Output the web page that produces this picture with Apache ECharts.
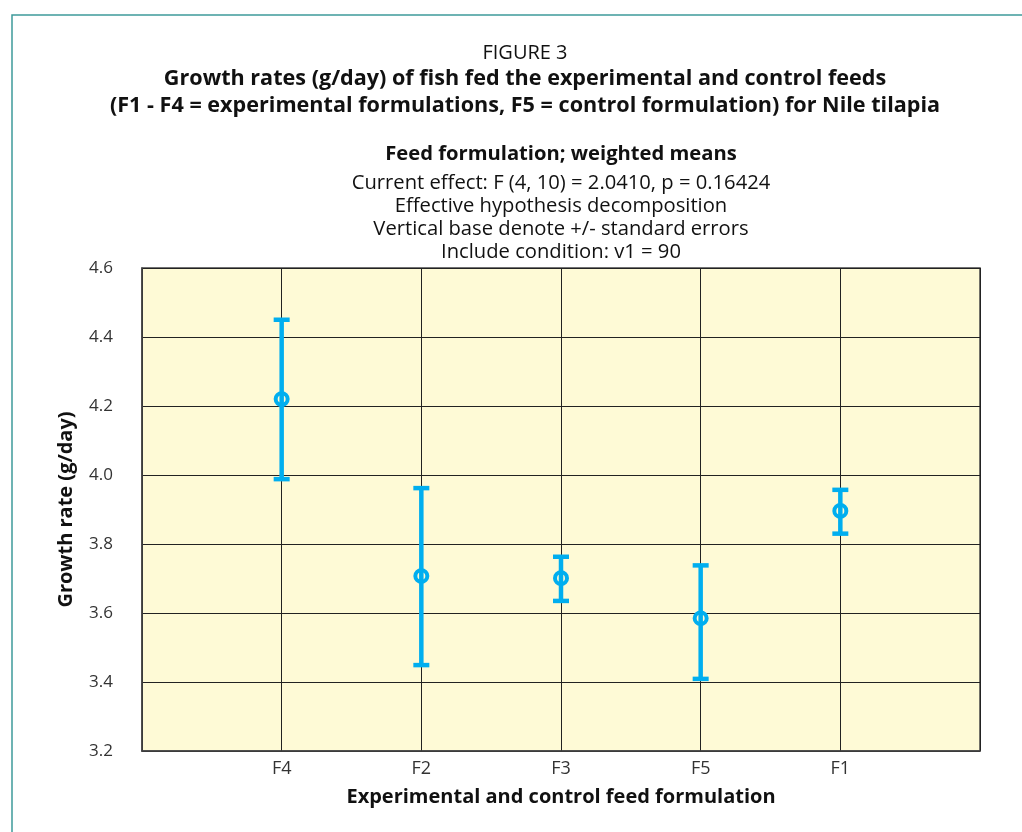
<!DOCTYPE html>
<html>
<head>
<meta charset="utf-8">
<script src="https://cdn.jsdelivr.net/npm/echarts@6/dist/echarts.min.js"></script>
<style>html,body{margin:0;padding:0;background:#fff;}#c{width:1022px;height:832px;}</style>
</head>
<body>
<div id="c"></div>
<script>
var categories = ['F4', 'F2', 'F3', 'F5', 'F1'];
var means = [4.22, 3.707, 3.701, 3.585, 3.896];
var upper = [4.45, 3.962, 3.763, 3.738, 3.957];
var lower = [3.988, 3.449, 3.635, 3.409, 3.830];
var yTicks = { min: 3.2, max: 4.6, interval: 0.2 };

var FONT = '"Open Sans", "Noto Sans", sans-serif';
var barColor = '#00AEEF';

var data = categories.map(function (c, i) { return [i + 1, means[i], lower[i], upper[i]]; });

var chart = echarts.init(document.getElementById('c'), null, { renderer: 'canvas' });
chart.setOption({
  backgroundColor: '#ffffff',
  animation: false,
  grid: { left: 142, right: 42, top: 268, bottom: 81, show: true, backgroundColor: '#FEFAD6', borderColor: '#444', borderWidth: 1.5 },
  xAxis: {
    type: 'value', min: 0, max: 6, interval: 1,
    name: 'Experimental and control feed formulation',
    nameLocation: 'middle', nameGap: 36,
    nameTextStyle: { fontFamily: FONT, fontWeight: 'bold', fontSize: 20, color: '#111' },
    axisLine: { show: true, lineStyle: { color: '#444', width: 1.5 } },
    axisTick: { show: false },
    axisLabel: {
      fontFamily: FONT, fontSize: 18, color: '#333', margin: 9,
      formatter: function (v) { var k = Math.round(v); return (k >= 1 && k <= categories.length) ? categories[k - 1] : ''; }
    },
    splitLine: { show: true, lineStyle: { color: '#222', width: 1 } }
  },
  yAxis: {
    type: 'value', min: yTicks.min, max: yTicks.max, interval: yTicks.interval,
    name: 'Growth rate (g/day)',
    nameLocation: 'middle', nameGap: 66, nameRotate: 90,
    nameTextStyle: { fontFamily: FONT, fontWeight: 'bold', fontSize: 20, color: '#111' },
    axisLine: { show: true, lineStyle: { color: '#444', width: 1.5 } },
    axisTick: { show: false },
    axisLabel: { fontFamily: FONT, fontSize: 17, color: '#333', margin: 29, formatter: function (v) { return v.toFixed(1); } },
    splitLine: { show: true, lineStyle: { color: '#222', width: 1 } }
  },
  series: [{
    type: 'custom',
    data: data,
    renderItem: function (params, api) {
      var x = api.value(0);
      var pm = api.coord([x, api.value(1)]);
      var pl = api.coord([x, api.value(2)]);
      var pu = api.coord([x, api.value(3)]);
      var cap = 8;
      var st = { stroke: barColor, lineWidth: 4.5, fill: 'none' };
      return {
        type: 'group',
        children: [
          { type: 'line', shape: { x1: pm[0], y1: pl[1], x2: pm[0], y2: pu[1] }, style: st },
          { type: 'line', shape: { x1: pm[0] - cap, y1: pu[1], x2: pm[0] + cap, y2: pu[1] }, style: st },
          { type: 'line', shape: { x1: pm[0] - cap, y1: pl[1], x2: pm[0] + cap, y2: pl[1] }, style: st },
          { type: 'ellipse', shape: { cx: pm[0], cy: pm[1], rx: 6, ry: 5.8 }, style: { stroke: barColor, lineWidth: 4, fill: 'none' } }
        ]
      };
    }
  }],
  graphic: [
    { type: 'polyline', shape: { points: [[12, 900], [12, 15], [1100, 15]] }, style: { stroke: '#3E9A9A', lineWidth: 1.5, fill: 'none' }, silent: true },
    { type: 'text', x: 525, y: 53, style: { text: 'FIGURE 3', textAlign: 'center', textVerticalAlign: 'middle', font: '20px ' + FONT, fill: '#111' } },
    { type: 'text', x: 525, y: 79, style: { text: 'Growth rates (g/day) of fish fed the experimental and control feeds', textAlign: 'center', textVerticalAlign: 'middle', font: 'bold 21.6px ' + FONT, fill: '#111' } },
    { type: 'text', x: 525, y: 106, style: { text: '(F1 - F4 = experimental formulations, F5 = control formulation) for Nile tilapia', textAlign: 'center', textVerticalAlign: 'middle', font: 'bold 21.6px ' + FONT, fill: '#111' } },
    { type: 'text', x: 561, y: 154, style: { text: 'Feed formulation; weighted means', textAlign: 'center', textVerticalAlign: 'middle', font: 'bold 20.2px ' + FONT, fill: '#111' } },
    { type: 'text', x: 561, y: 183, style: { text: 'Current effect: F (4, 10) = 2.0410, p = 0.16424', textAlign: 'center', textVerticalAlign: 'middle', font: '20.2px ' + FONT, fill: '#111' } },
    { type: 'text', x: 561, y: 206, style: { text: 'Effective hypothesis decomposition', textAlign: 'center', textVerticalAlign: 'middle', font: '20.2px ' + FONT, fill: '#111' } },
    { type: 'text', x: 561, y: 229, style: { text: 'Vertical base denote +/- standard errors', textAlign: 'center', textVerticalAlign: 'middle', font: '20.2px ' + FONT, fill: '#111' } },
    { type: 'text', x: 561, y: 252, style: { text: 'Include condition: v1 = 90', textAlign: 'center', textVerticalAlign: 'middle', font: '20.2px ' + FONT, fill: '#111' } }
  ]
});
</script>
</body>
</html>
